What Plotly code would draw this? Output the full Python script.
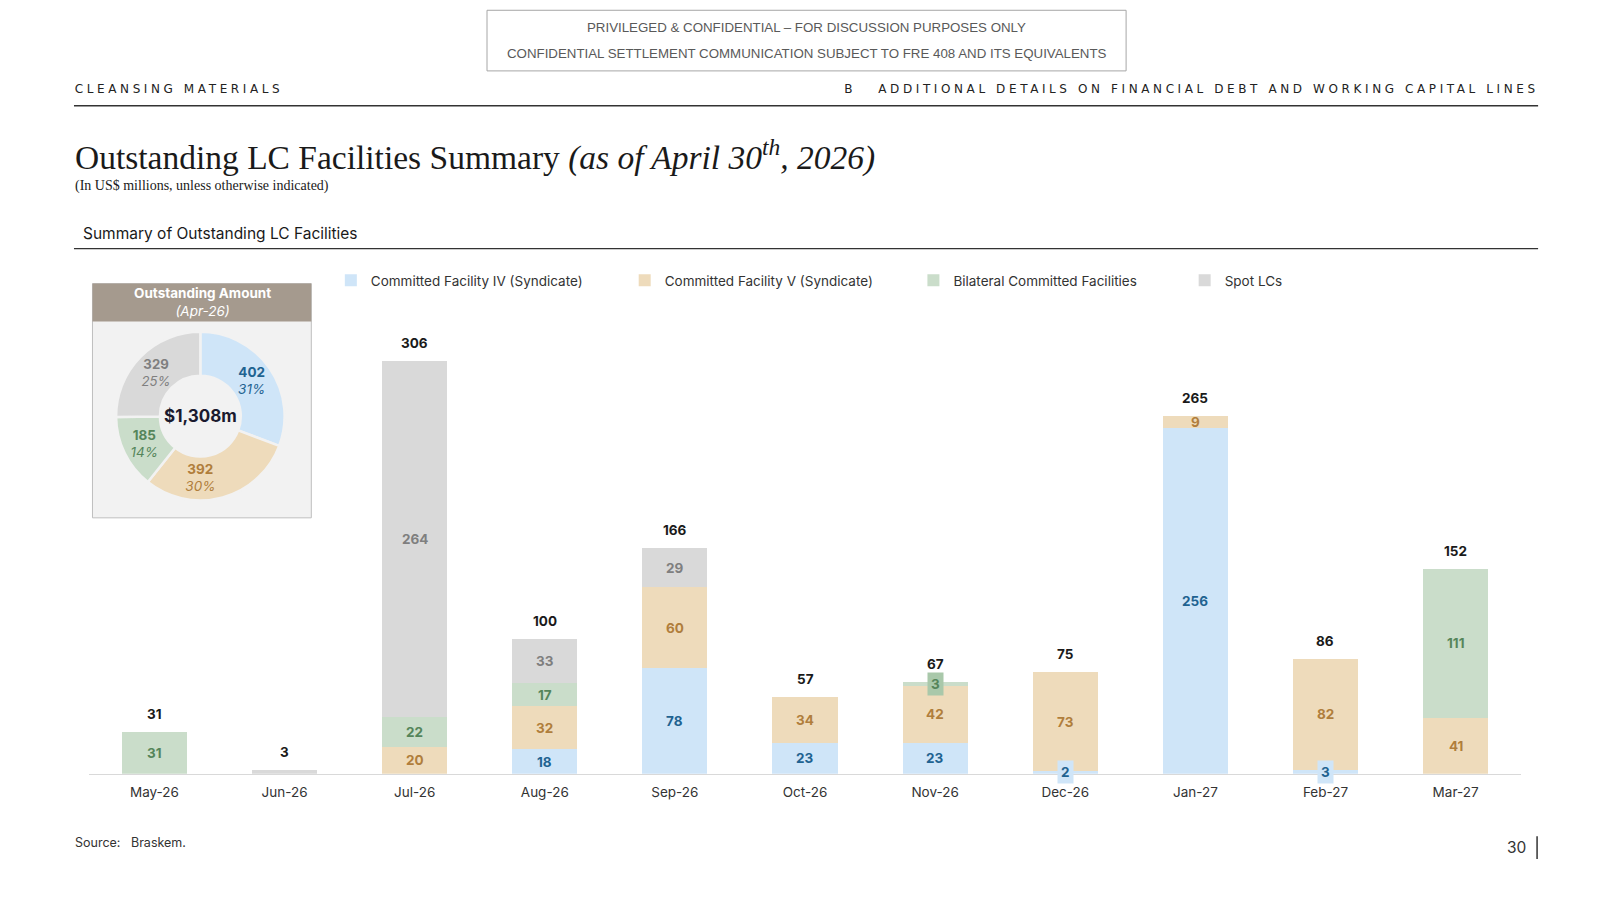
import plotly.graph_objects as go

W, H = 1609, 905
S = 1609 / 1566  # layout measured on a 1566-wide view of the page

# ---- data ----
months = ["May-26", "Jun-26", "Jul-26", "Aug-26", "Sep-26", "Oct-26",
          "Nov-26", "Dec-26", "Jan-27", "Feb-27", "Mar-27"]
fac_iv = [0, 0, 0, 18, 78, 23, 23, 2, 256, 3, 0]
fac_v = [0, 0, 20, 32, 60, 34, 42, 73, 9, 82, 41]
bilateral = [31, 0, 22, 17, 0, 0, 3, 0, 0, 0, 111]
spot = [0, 3, 264, 33, 29, 0, 0, 0, 0, 0, 0]
totals = [31, 3, 306, 100, 166, 57, 67, 75, 265, 86, 152]

donut_labels = ["Committed Facility IV (Syndicate)", "Committed Facility V (Syndicate)",
                "Bilateral Committed Facilities", "Spot LCs"]
donut_values = [402, 392, 185, 329]
donut_pct = ["31%", "30%", "14%", "25%"]
donut_total = "$1,308m"

series_names = donut_labels
series_vals = [fac_iv, fac_v, bilateral, spot]
fill_cols = ["#CFE5F8", "#EEDBBB", "#CADDCA", "#D9D9D9"]
text_cols = ["#1F6391", "#B07E3C", "#55855A", "#7F7F7F"]
legend_x = [322, 608, 889, 1153]

FONT = "Inter"


def px(x):
    return x * S / W


def py(y):
    return 1 - y * S / H


fig = go.Figure()

for k, (name, vals, fc) in enumerate(zip(series_names, series_vals, fill_cols)):
    fig.add_trace(go.Bar(x=months, y=vals, name=name, marker=dict(color=fc, line_width=0),
                         hoverinfo="skip", showlegend=True,
                         legend="legend" if k == 0 else f"legend{k + 1}"))

# segment labels
base = [0] * len(months)
annotations = []
for k, vals in enumerate(series_vals):
    for i, v in enumerate(vals):
        if v > 0:
            lone_small = v < 5 and v == totals[i]
            if not lone_small:
                ann = dict(x=months[i], y=base[i] + v / 2, xref="x", yref="y",
                           text=f"<b>{v}</b>", showarrow=False,
                           font=dict(family=FONT, size=13.5, color=text_cols[k]))
                if v < 5:
                    ann.update(bgcolor=fill_cols[k] if k != 2 else "#A9C8AA", borderpad=3)
                annotations.append(ann)
        base[i] += v

for i, t in enumerate(totals):
    annotations.append(dict(x=months[i], y=base[i], xref="x", yref="y", text=f"<b>{t}</b>",
                            showarrow=False, yanchor="bottom", yshift=8,
                            font=dict(family=FONT, size=13.5, color="#1A1A1A")))

# donut
fig.add_trace(go.Pie(labels=donut_labels, values=donut_values, hole=0.48, sort=False,
                     direction="clockwise", rotation=0, showlegend=False,
                     domain=dict(x=[px(113), px(277)], y=[py(487), py(323)]),
                     marker=dict(colors=fill_cols, line=dict(color="#F2F2F2", width=2.5)),
                     text=[f"<b>{v}</b><br><i>{p}</i>" for v, p in zip(donut_values, donut_pct)],
                     texttemplate="%{text}", textposition="inside",
                     insidetextorientation="horizontal",
                     textfont=dict(family=FONT, size=13.5, color=text_cols),
                     hoverinfo="skip"))

annotations.append(dict(x=px(195), y=py(405), text=f"<b>{donut_total}</b>",
                        font=dict(family=FONT, size=17, color="#1A1A2E")))
annotations.append(dict(x=px(197), y=py(294),
                        text="<b>Outstanding Amount</b><br><i>(Apr-26)</i>",
                        font=dict(family=FONT, size=13.5, color="white")))

# page text
annotations += [
    dict(x=px(785), y=py(27), text="PRIVILEGED & CONFIDENTIAL – FOR DISCUSSION PURPOSES ONLY",
         font=dict(family="Liberation Sans", size=13.3, color="#595959")),
    dict(x=px(785), y=py(52), text="CONFIDENTIAL SETTLEMENT COMMUNICATION SUBJECT TO FRE 408 AND ITS EQUIVALENTS",
         font=dict(family="Liberation Sans", size=13.3, color="#595959")),
    dict(x=px(174.5), y=py(87), text="CLEANSING MATERIALS",
         font=dict(family="DejaVu Sans", size=12, color="#222222")),
    dict(x=px(1160), y=py(87),
         text="B   ADDITIONAL DETAILS ON FINANCIAL DEBT AND WORKING CAPITAL LINES",
         font=dict(family="DejaVu Sans", size=12, color="#222222")),
    dict(x=px(71), y=py(151), xanchor="left",
         text="Outstanding LC Facilities Summary <i>(as of April 30<sup>th</sup>, 2026)</i>",
         font=dict(family="Liberation Serif", size=33.5, color="#1A1A1A")),
    dict(x=px(71), y=py(181), xanchor="left", text="(In US$ millions, unless otherwise indicated)",
         font=dict(family="Liberation Serif", size=14, color="#1A1A1A")),
    dict(x=px(79), y=py(227), xanchor="left", text="Summary of Outstanding LC Facilities",
         font=dict(family=FONT, size=15.5, color="#1A1A1A")),
    dict(x=px(71), y=py(820), xanchor="left", text="Source:   Braskem.",
         font=dict(family=FONT, size=12.5, color="#333333")),
    dict(x=px(1487), y=py(825), xanchor="right", text="30",
         font=dict(family=FONT, size=15.5, color="#333333")),
]
for a in annotations:
    a.setdefault("xref", "paper")
    a.setdefault("yref", "paper")
    a.setdefault("showarrow", False)
    a.setdefault("xanchor", "center")
    a.setdefault("yanchor", "middle")

shapes = [
    dict(type="rect", xref="paper", yref="paper", x0=px(474), x1=px(1096), y0=py(69), y1=py(10),
         line=dict(color="#A6A6A6", width=1), fillcolor="rgba(0,0,0,0)"),
    dict(type="line", xref="paper", yref="paper", x0=px(72), x1=px(1497), y0=py(103), y1=py(103),
         line=dict(color="#333333", width=1.5)),
    dict(type="line", xref="paper", yref="paper", x0=px(72), x1=px(1497), y0=py(242), y1=py(242),
         line=dict(color="#333333", width=1.2)),
    dict(type="rect", xref="paper", yref="paper", x0=px(90), x1=px(303), y0=py(504), y1=py(276),
         line=dict(color="#BFBFBF", width=1), fillcolor="#F2F2F2", layer="below"),
    dict(type="rect", xref="paper", yref="paper", x0=px(90), x1=px(303), y0=py(313), y1=py(276),
         line=dict(width=0), fillcolor="#A59A8E", layer="below"),
    dict(type="line", xref="paper", yref="paper", x0=px(1496), x1=px(1496), y0=py(814), y1=py(836),
         line=dict(color="#333333", width=1.5)),
]

legend_style = dict(orientation="h", yanchor="middle", xanchor="left", itemwidth=30,
                    font=dict(family=FONT, size=13.5, color="#333333"), bgcolor="rgba(0,0,0,0)")
legends = {}
for k, lx in enumerate(legend_x):
    key = "legend" if k == 0 else f"legend{k + 1}"
    legends[key] = dict(legend_style, x=px(lx), y=py(273))

fig.update_layout(
    width=W, height=H, margin=dict(l=0, r=0, t=0, b=0, autoexpand=False),
    paper_bgcolor="white", plot_bgcolor="white",
    barmode="stack", bargap=0.5,
    font=dict(family=FONT, size=13, color="#333333"),
    xaxis=dict(domain=[px(87), px(1480)], showline=True, linecolor="#D9D9D9", linewidth=1,
               ticks="", ticklabelstandoff=6, tickfont=dict(family=FONT, size=13.5, color="#333333"),
               showgrid=False, fixedrange=True, automargin=False),
    yaxis=dict(domain=[py(753), py(330)], range=[0, 322], visible=False, showgrid=False,
               zeroline=False, automargin=False),
    annotations=annotations,
    shapes=shapes,
    showlegend=True,
    **legends,
)

spacing_js = """
document.body.style.margin = '0';
document.querySelectorAll('text.annotation-text').forEach(function (t) {
    var s = t.textContent;
    if (s.indexOf('CLEANSING') === 0 || s.indexOf('ADDITIONAL DETAILS') >= 0) {
        t.style.letterSpacing = '3.6px';
    }
});
"""

fig.write_html("out.html", post_script=spacing_js, config={"displayModeBar": False})
